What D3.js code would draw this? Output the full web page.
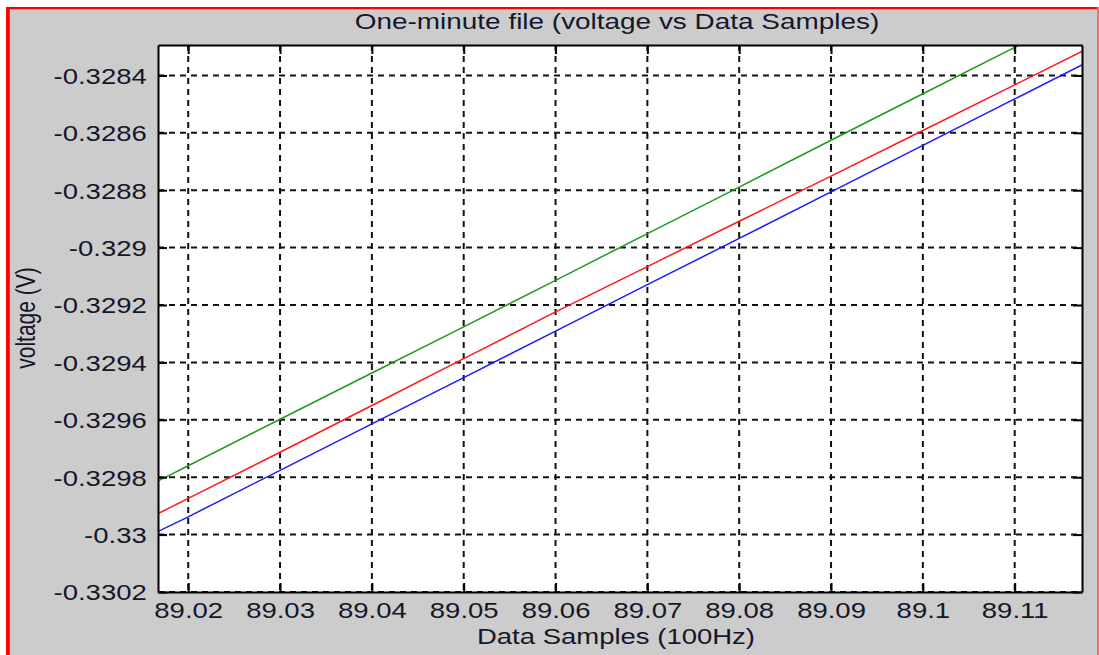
<!DOCTYPE html>
<html>
<head>
<meta charset="utf-8">
<script src="https://cdn.jsdelivr.net/npm/d3@7/dist/d3.min.js"></script>
<style>
  html, body { margin: 0; padding: 0; background: #ffffff; }
  svg { display: block; }
  text { font-family: "Liberation Sans", Arial, sans-serif; fill: #16162a; }
</style>
</head>
<body>
<svg id="chart" width="1099" height="655"></svg>
<script>
// Sample times (s) at 100 Hz
const samples = [89.01, 89.02, 89.03, 89.04, 89.05, 89.06, 89.07, 89.08, 89.09, 89.10, 89.11, 89.12];

// Voltage of the three channels (V)
const greenVolts = [-0.329922, -0.329760, -0.329598, -0.329437, -0.329276, -0.329114,
                    -0.328951, -0.328789, -0.328626, -0.328464, -0.328302, -0.328140];
const redVolts   = [-0.330035, -0.329874, -0.329713, -0.329550, -0.329387, -0.329224,
                    -0.329066, -0.328908, -0.328751, -0.328592, -0.328433, -0.328274];
const blueVolts  = [-0.330094, -0.329938, -0.329776, -0.329614, -0.329453, -0.329291,
                    -0.329129, -0.328968, -0.328806, -0.328644, -0.328482, -0.328320];

// Axis ticks and their labels
const xTicks = [89.02, 89.03, 89.04, 89.05, 89.06, 89.07, 89.08, 89.09, 89.10, 89.11];
const xTickLabels = ["89.02", "89.03", "89.04", "89.05", "89.06", "89.07", "89.08", "89.09", "89.1", "89.11"];
const yTicks = [-0.3302, -0.3300, -0.3298, -0.3296, -0.3294, -0.3292, -0.3290, -0.3288, -0.3286, -0.3284];
const yTickLabels = ["-0.3302", "-0.33", "-0.3298", "-0.3296", "-0.3294", "-0.3292", "-0.329", "-0.3288", "-0.3286", "-0.3284"];

const xDomain = [89.01671, 89.11733];
const yDomain = [-0.3302, -0.328294];

const W = 1099, H = 655;
const plot = { left: 158, top: 45, right: 1082, bottom: 592 };
const SX = 1.25; // horizontal text stretch

const svg = d3.select("#chart");

// Figure background and window border
svg.append("rect").attr("x", 0).attr("y", 0).attr("width", W).attr("height", H).attr("fill", "#ffffff");
svg.append("rect").attr("x", 9).attr("y", 9).attr("width", 1088).attr("height", H - 9).attr("fill", "#cccccc");
svg.append("rect").attr("x", 6).attr("y", 7).attr("width", W - 6).attr("height", 2.2).attr("fill", "#ff0000");
svg.append("rect").attr("x", 6).attr("y", 7).attr("width", 3.8).attr("height", H - 7).attr("fill", "#ff0000");
svg.append("rect").attr("x", 1097).attr("y", 7).attr("width", 2).attr("height", H - 7).attr("fill", "#f07070");

const x = d3.scaleLinear().domain(xDomain).range([plot.left, plot.right]);
const y = d3.scaleLinear().domain(yDomain).range([plot.bottom, plot.top]);

// Axes area
svg.append("rect")
  .attr("x", plot.left).attr("y", plot.top)
  .attr("width", plot.right - plot.left).attr("height", plot.bottom - plot.top)
  .attr("fill", "#ffffff");

svg.append("clipPath").attr("id", "plotClip")
  .append("rect")
  .attr("x", plot.left).attr("y", plot.top)
  .attr("width", plot.right - plot.left).attr("height", plot.bottom - plot.top);

// Dashed grid
const grid = svg.append("g").attr("clip-path", "url(#plotClip)")
  .attr("stroke", "#111").attr("stroke-width", 2).attr("stroke-dasharray", "6,5");
grid.selectAll("line.gx").data(xTicks).join("line").attr("class", "gx")
  .attr("x1", d => x(d)).attr("x2", d => x(d))
  .attr("y1", plot.top).attr("y2", plot.bottom);
grid.selectAll("line.gy").data(yTicks).join("line").attr("class", "gy")
  .attr("x1", plot.left).attr("x2", plot.right)
  .attr("y1", d => y(d)).attr("y2", d => y(d));

// Channel traces
const series = [
  { values: greenVolts, color: "#1e9a1e" },
  { values: redVolts,   color: "#ff1a1a" },
  { values: blueVolts,  color: "#1a1aff" }
];
const line = d3.line().x(d => x(d[0])).y(d => y(d[1]));
const traces = svg.append("g").attr("clip-path", "url(#plotClip)");
series.forEach(s => {
  traces.append("path")
    .datum(samples.map((t, i) => [t, s.values[i]]))
    .attr("d", line)
    .attr("fill", "none")
    .attr("stroke", s.color)
    .attr("stroke-width", 1.5);
});

// Axes with inward ticks on all four sides
const tick = 9;
const styleAxis = g => {
  g.select(".domain").attr("stroke", "#000").attr("stroke-width", 2);
  g.selectAll(".tick line").attr("stroke", "#000").attr("stroke-width", 2);
};

const xAxis = svg.append("g").attr("transform", `translate(0,${plot.bottom})`)
  .call(d3.axisBottom(x).tickValues(xTicks).tickSizeInner(-tick).tickSizeOuter(0)
        .tickPadding(10).tickFormat((d, i) => xTickLabels[i]));
styleAxis(xAxis);
xAxis.selectAll(".tick text")
  .attr("font-size", 22).attr("dy", "0.71em").attr("y", 10)
  .attr("fill", "#16162a")
  .attr("font-family", "Liberation Sans, Arial, sans-serif")
  .attr("transform", `scale(${SX},1)`);

const yAxis = svg.append("g").attr("transform", `translate(${plot.left},0)`)
  .call(d3.axisLeft(y).tickValues(yTicks).tickSizeInner(-tick).tickSizeOuter(0)
        .tickPadding(9).tickFormat((d, i) => yTickLabels[i]));
styleAxis(yAxis);
yAxis.selectAll(".tick text")
  .attr("font-size", 22).attr("dy", "0.36em")
  .attr("fill", "#16162a")
  .attr("font-family", "Liberation Sans, Arial, sans-serif")
  .attr("transform", `scale(${SX},1)`);

const xTop = svg.append("g").attr("transform", `translate(0,${plot.top})`)
  .call(d3.axisTop(x).tickValues(xTicks).tickSizeInner(-tick).tickSizeOuter(0).tickFormat(""));
styleAxis(xTop);
const yRight = svg.append("g").attr("transform", `translate(${plot.right},0)`)
  .call(d3.axisRight(y).tickValues(yTicks).tickSizeInner(-tick).tickSizeOuter(0).tickFormat(""));
styleAxis(yRight);

// Title and axis labels
svg.append("text")
  .attr("transform", `translate(617,29) scale(1.27,1)`)
  .attr("text-anchor", "middle").attr("font-size", 22)
  .text("One-minute file (voltage vs Data Samples)");

svg.append("text")
  .attr("transform", `translate(616,644) scale(${SX},1)`)
  .attr("text-anchor", "middle").attr("font-size", 22)
  .text("Data Samples (100Hz)");

svg.append("text")
  .attr("transform", `translate(35,318) rotate(-90) scale(1,1.3)`)
  .attr("text-anchor", "middle").attr("font-size", 21)
  .text("voltage (V)");
</script>
</body>
</html>
